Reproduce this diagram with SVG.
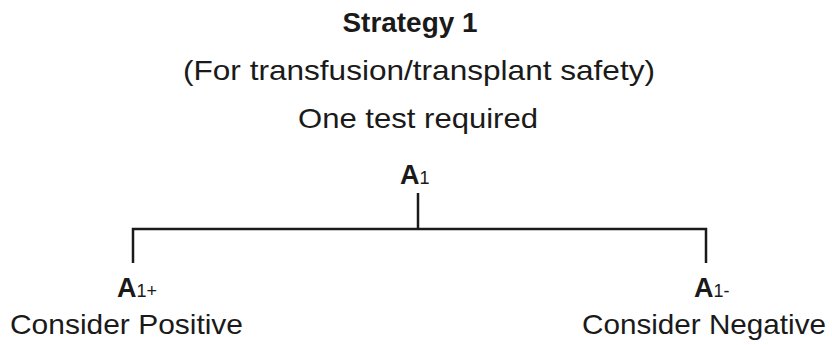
<svg xmlns="http://www.w3.org/2000/svg" width="832" height="345" viewBox="0 0 832 345">
  <style>
    text { font-family: "Liberation Sans", Arial, sans-serif; fill: #1a1a1a; }
    .title { font-size: 28px; font-weight: bold; }
    .sub { font-size: 28px; }
    .node { font-size: 27px; font-weight: bold; }
    .idx { font-size: 18px; font-weight: normal; }
    .label { font-size: 28px; }
    .conn { stroke: #1a1a1a; stroke-width: 2.5; fill: none; }
  </style>
  <rect width="832" height="345" fill="#ffffff"/>

  <g id="header">
    <text class="title" x="410" y="32" text-anchor="middle" textLength="135" lengthAdjust="spacingAndGlyphs">Strategy 1</text>
    <text class="sub" x="419" y="80" text-anchor="middle" textLength="472" lengthAdjust="spacingAndGlyphs">(For transfusion/transplant safety)</text>
    <text class="sub" x="418" y="128" text-anchor="middle" textLength="240" lengthAdjust="spacingAndGlyphs">One test required</text>
  </g>

  <g id="connectors">
    <path class="conn" d="M418 193 V229"/>
    <path class="conn" d="M133 263 V229 H706 V263"/>
  </g>

  <g id="node-a1">
    <text class="node" x="400" y="184">A<tspan class="idx">1</tspan></text>
  </g>

  <g id="node-a1-positive">
    <text class="node" x="117" y="297">A<tspan class="idx">1+</tspan></text>
    <text class="label" x="10" y="334" textLength="233" lengthAdjust="spacingAndGlyphs">Consider Positive</text>
  </g>

  <g id="node-a1-negative">
    <text class="node" x="694" y="297">A<tspan class="idx">1-</tspan></text>
    <text class="label" x="582" y="334" textLength="244" lengthAdjust="spacingAndGlyphs">Consider Negative</text>
  </g>
</svg>
